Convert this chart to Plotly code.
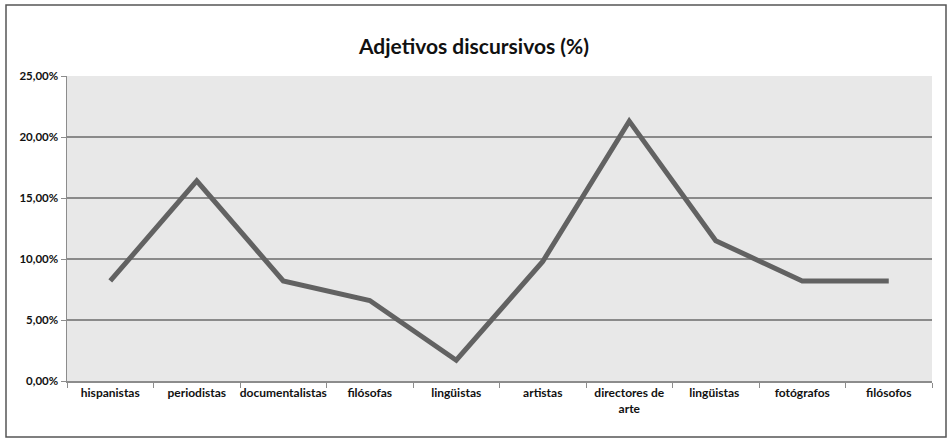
import plotly.graph_objects as go

categories = ["hispanistas", "periodistas", "documentalistas", "filósofas", "lingüistas",
              "artistas", "directores de<br>arte", "lingüistas ", "fotógrafos", "filósofos"]
values = [8.2, 16.4, 8.2, 6.6, 1.7, 9.8, 21.3, 11.5, 8.2, 8.2]
y_ticks = [0, 5, 10, 15, 20, 25]
y_labels = ["0,00%", "5,00%", "10,00%", "15,00%", "20,00%", "25,00%"]
title = "Adjetivos discursivos (%)"

fig = go.Figure()
fig.add_trace(go.Scatter(
    x=categories, y=values, mode="lines",
    line=dict(color="#626262", width=5),
    hoverinfo="skip",
))

fig.update_layout(
    width=948, height=441,
    margin=dict(l=67, r=16, t=76, b=60),
    paper_bgcolor="white",
    plot_bgcolor="#e8e8e8",
    showlegend=False,
    font=dict(family="Lato", color="#111111"),
    title=dict(text=title, x=0.5, xanchor="center", y=1 - 47 / 441, yanchor="middle",
               yref="container",
               font=dict(family="Lato", size=21, color="#111111", weight="bold")),
    xaxis=dict(
        type="category", tickson="boundaries", ticks="outside", ticklen=5,
        tickcolor="#8c8c8c", showline=True, linecolor="#8c8c8c", linewidth=1.5,
        showgrid=False, tickangle=0,
        tickfont=dict(family="Lato", size=12, color="#111111", weight="bold"),
        range=[-0.5, 9.5], fixedrange=True,
    ),
    yaxis=dict(
        range=[0, 25], tickvals=y_ticks, ticktext=y_labels,
        ticks="outside", ticklen=5, tickcolor="#8c8c8c",
        showline=True, linecolor="#8c8c8c", linewidth=1.5,
        showgrid=True, gridcolor="#8a8a8a", gridwidth=1.5,
        zeroline=False,
        tickfont=dict(family="Lato", size=11.5, color="#111111", weight="bold"),
        fixedrange=True,
    ),
    shapes=[dict(type="rect", xref="paper", yref="paper",
                 x0=-61 / 865, x1=1 + 14 / 865, y0=-56 / 305, y1=1 + 71 / 305,
                 line=dict(color="#555555", width=1.5), layer="below")],
)

fig.write_html("out.html", config={"displayModeBar": False, "staticPlot": True},
               post_script="document.body.style.margin='0';document.body.style.overflow='hidden';")
